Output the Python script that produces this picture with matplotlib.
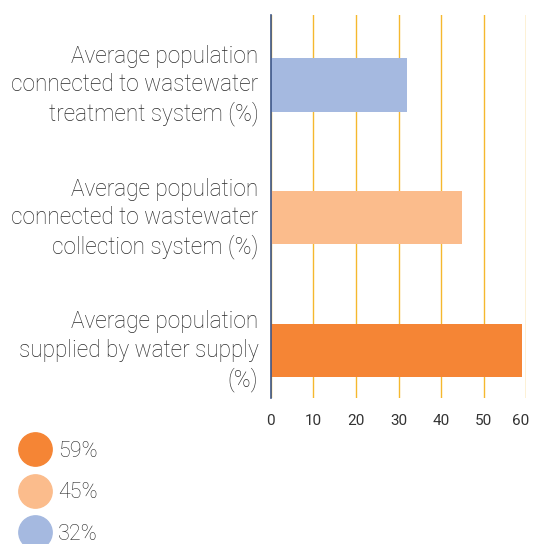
import matplotlib
matplotlib.use("Agg")
import matplotlib.pyplot as plt
import matplotlib.transforms as mtransforms
from matplotlib.lines import Line2D

categories = [
    "Average population\nsupplied by water supply\n(%)",
    "Average population\nconnected to wastewater\ncollection system (%)",
    "Average population\nconnected to wastewater\ntreatment system (%)",
]
values = [59, 45, 32]
colors = ["#f58535", "#fbbc8c", "#a5b9e0"]
legend_labels = ["59%", "45%", "32%"]
xticks = [0, 10, 20, 30, 40, 50, 60]

plt.rcParams['font.family'] = ['Roboto', 'DejaVu Sans']
fig = plt.figure(figsize=(5.33, 5.44), dpi=100)
ax = fig.add_axes([0.508, 0.268, 0.4795, 0.704])

ypos = list(range(len(values)))
ax.barh(ypos, values, height=0.4, color=colors, zorder=2)
ax.set_xlim(0, 60)
ax.set_ylim(-0.36, 2.526)
ax.set_xticks(xticks)
ax.set_xticklabels([str(t) for t in xticks], fontsize=11, color="#333333")
ax.set_yticks(ypos)
ax.set_yticklabels(categories, fontsize=16.3, color="#2a2a2a", fontweight="light", linespacing=1.28)
ax.tick_params(axis="x", length=0, pad=11.5)
ax.tick_params(axis="y", length=0, pad=9)
for lab in ax.get_yticklabels():
    lab.set_transform(lab.get_transform() + mtransforms.ScaledTranslation(0, 3.5 / 72, fig.dpi_scale_trans))
last = ax.get_xticklabels()[-1]
last.set_transform(last.get_transform() + mtransforms.ScaledTranslation(-4 / 72, 0, fig.dpi_scale_trans))
ax.xaxis.grid(True, color="#f5b82e", linewidth=1, zorder=0)
ax.yaxis.grid(False)
for s in ["top", "right", "bottom"]:
    ax.spines[s].set_visible(False)
ax.spines["left"].set_color("#3d5688")
ax.spines["left"].set_linewidth(1.2)
ax.spines["left"].set_zorder(3)

handles = [Line2D([0], [0], marker="o", linestyle="none", markersize=24,
                  markerfacecolor=c, markeredgecolor=c) for c in colors]
leg = fig.legend(handles, legend_labels, loc="upper left", bbox_to_anchor=(0.036, 0.1895),
                 frameon=False, fontsize=15.5, handletextpad=0.3, labelspacing=0.95,
                 borderaxespad=0, borderpad=0, handlelength=1.5)
for t in leg.get_texts():
    t.set_color("#2a2a2a")
    t.set_fontweight("light")

fig.savefig("out.png", dpi=100)
